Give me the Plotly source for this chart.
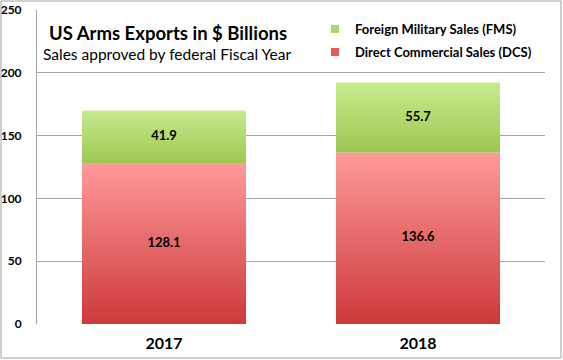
import plotly.graph_objects as go

years = ["2017", "2018"]
dcs = [128.1, 136.6]
fms = [41.9, 55.7]
series_names = ["Foreign Military Sales (FMS)", "Direct Commercial Sales (DCS)"]
y_ticks = [0, 50, 100, 150, 200, 250]

W, H = 563, 360
ML, MR, MT, MB = 37, 18, 10, 36
PW, PH = W - ML - MR, H - MT - MB
FONT = "Lato"
HALF = 0.323

red_scale = [[0, "#CC3A3A"], [1, "#FF9A9A"]]
green_scale = [[0, "#9CC850"], [1, "#C8EA8E"]]

fig = go.Figure()

xs = list(range(len(years)))
for i in xs:
    for base, val, scale in [(0, dcs[i], red_scale), (dcs[i], fms[i], green_scale)]:
        top = base + val
        fig.add_trace(go.Scatter(
            x=[i - HALF, i + HALF, i + HALF, i - HALF, i - HALF],
            y=[base, base, top, top, base],
            mode="lines", fill="toself", line=dict(width=0),
            fillgradient=dict(type="vertical", colorscale=scale, start=base, stop=top),
            showlegend=False, hoverinfo="skip"))

# data labels
fig.add_trace(go.Scatter(
    x=xs + xs, y=[d / 2 for d in dcs] + [d + f / 2 for d, f in zip(dcs, fms)],
    mode="text", text=[f"{v:.1f}" for v in dcs + fms],
    textfont=dict(family=FONT, size=13, color="black", weight="bold"),
    showlegend=False, hoverinfo="skip"))

# legend entries
fig.add_trace(go.Scatter(x=[None], y=[None], mode="markers", name=series_names[0],
                         marker=dict(symbol="square", size=8, color="#A8D86A"), legend="legend"))
fig.add_trace(go.Scatter(x=[None], y=[None], mode="markers", name=series_names[1],
                         marker=dict(symbol="square", size=8, color="#E8585A"), legend="legend2"))

def px_x(p):
    return (p - ML) / PW

def px_y(p):
    return (H - MB - p) / PH

leg_common = dict(xanchor="left", yanchor="middle",
                  font=dict(family=FONT, size=13, weight="bold"),
                  bgcolor="rgba(0,0,0,0)", borderwidth=0)

fig.update_layout(
    width=W, height=H,
    margin=dict(l=ML, r=MR, t=MT, b=MB, pad=0, autoexpand=False),
    paper_bgcolor="white", plot_bgcolor="white",
    font=dict(family=FONT, color="black"),
    xaxis=dict(range=[-0.5, 1.5], tickvals=xs, ticktext=years, showgrid=False,
               zeroline=False, showline=False, ticks="", automargin=False,
               tickfont=dict(family=FONT, size=16, weight="bold"), ticklabelstandoff=8),
    yaxis=dict(range=[0, 250], tickvals=y_ticks, showgrid=True, gridcolor="#A6A6A6",
               gridwidth=1, zeroline=False, showline=True, linecolor="#A6A6A6",
               ticks="", automargin=False, tickfont=dict(family=FONT, size=12, weight="bold"),
               ticklabelstandoff=12),
    legend=dict(x=px_x(315), y=px_y(29), **leg_common),
    legend2=dict(x=px_x(315), y=px_y(52), **leg_common),
    showlegend=True,
    annotations=[
        dict(text="US Arms Exports in $ Billions", xref="paper", yref="paper",
             x=px_x(168), y=px_y(33), xanchor="center", yanchor="middle", showarrow=False,
             font=dict(family=FONT, size=18.5, weight="bold")),
        dict(text="Sales approved by federal Fiscal Year", xref="paper", yref="paper",
             x=px_x(167), y=px_y(54), xanchor="center", yanchor="middle", showarrow=False,
             font=dict(family=FONT, size=15.5)),
    ],
    shapes=[dict(type="rect", xref="paper", yref="paper",
                 x0=px_x(1), x1=px_x(561), y0=px_y(358), y1=px_y(1),
                 line=dict(color="#A0A0A0", width=1), layer="above")],
)

fig.write_html("out.html", config={"displayModeBar": False},
               post_script="document.body.style.margin='0';")
